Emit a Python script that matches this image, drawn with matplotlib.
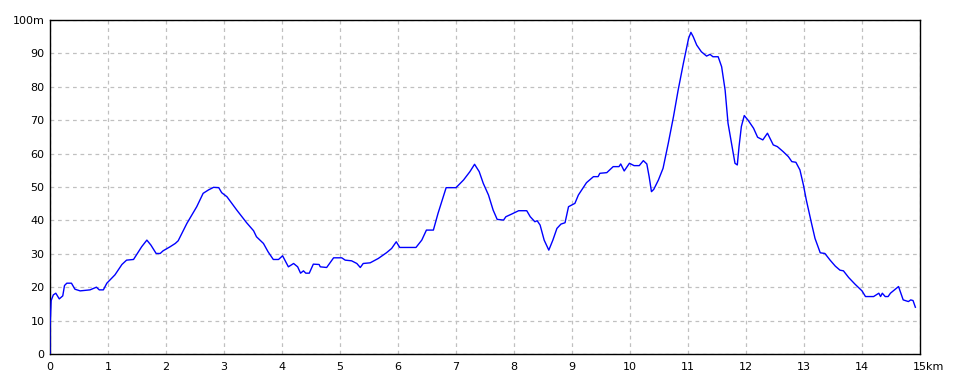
import matplotlib
matplotlib.use("Agg")
import matplotlib.pyplot as plt
from matplotlib.transforms import ScaledTranslation

# distance along route (km)
dist_km = [0.0, 0.0, 0.02, 0.057, 0.10, 0.16, 0.22, 0.25, 0.29, 0.37, 0.43, 0.52, 0.69, 0.80, 0.85, 0.92,
           0.98, 1.12, 1.24, 1.32, 1.44, 1.58, 1.67, 1.74, 1.83, 1.90, 1.95, 2.07, 2.16, 2.21, 2.36,
           2.53, 2.64, 2.73, 2.82, 2.91, 2.96, 3.05, 3.22, 3.39, 3.51, 3.56, 3.68, 3.76, 3.85, 3.94,
           4.01, 4.05, 4.11, 4.20, 4.27, 4.32, 4.37, 4.41, 4.47, 4.54, 4.64, 4.66, 4.77, 4.89, 5.03,
           5.09, 5.20, 5.29, 5.35, 5.40, 5.52, 5.66, 5.80, 5.89, 5.97, 6.03, 6.31, 6.41, 6.49, 6.61,
           6.69, 6.83, 7.00, 7.13, 7.24, 7.32, 7.40, 7.47, 7.56, 7.64, 7.71, 7.82, 7.86, 7.96, 8.08,
           8.22, 8.28, 8.36, 8.40, 8.45, 8.52, 8.60, 8.67, 8.74, 8.81, 8.88, 8.94, 9.05, 9.11, 9.25,
           9.37, 9.45, 9.48, 9.60, 9.71, 9.81, 9.84, 9.90, 9.99, 10.07, 10.16, 10.23, 10.29, 10.33,
           10.37, 10.41, 10.49, 10.57, 10.66, 10.75, 10.83, 10.92, 11.01, 11.05, 11.09, 11.15, 11.23,
           11.32, 11.38, 11.43, 11.52, 11.58, 11.64, 11.69, 11.75, 11.81, 11.85, 11.88, 11.92, 11.97,
           12.04, 12.13, 12.20, 12.29, 12.37, 12.47, 12.54, 12.64, 12.73, 12.79, 12.86, 12.93, 12.99,
           13.04, 13.13, 13.19, 13.28, 13.36, 13.45, 13.54, 13.62, 13.68, 13.77, 13.88, 14.00, 14.06,
           14.20, 14.29, 14.32, 14.35, 14.40, 14.45, 14.49, 14.63, 14.67, 14.71, 14.80, 14.84, 14.88,
           14.92]

# elevation (m)
elev_m = [0.0, 8.0, 16.0, 17.7, 18.2, 16.5, 17.4, 20.5, 21.2, 21.2, 19.4, 18.9, 19.2, 20.0, 19.2, 19.2,
          21.2, 23.7, 26.8, 28.1, 28.3, 32.1, 34.1, 32.6, 30.1, 30.1, 30.9, 32.1, 33.1, 33.9, 39.1,
          44.1, 48.1, 49.1, 49.9, 49.8, 48.3, 47.1, 43.1, 39.3, 36.9, 35.1, 33.1, 30.6, 28.3, 28.3,
          29.4, 28.1, 26.1, 27.1, 26.1, 24.2, 24.9, 24.2, 24.2, 26.9, 26.8, 26.1, 25.9, 28.8, 28.8,
          28.1, 27.9, 27.1, 25.9, 27.1, 27.3, 28.6, 30.3, 31.6, 33.6, 31.9, 31.9, 34.1, 37.1, 37.1,
          42.1, 49.8, 49.8, 52.1, 54.6, 56.8, 54.6, 51.1, 47.6, 43.1, 40.3, 40.1, 41.1, 41.9, 42.9,
          42.9, 41.1, 39.6, 39.9, 38.6, 34.1, 31.1, 34.1, 37.6, 38.9, 39.3, 44.1, 45.1, 47.6, 51.3,
          53.1, 53.1, 54.1, 54.3, 56.1, 56.1, 56.9, 54.8, 57.1, 56.4, 56.4, 57.9, 56.9, 53.1,
          48.6, 49.3, 52.1, 55.6, 63.1, 71.1, 79.0, 87.0, 94.5, 96.3, 95.0, 92.5, 90.5,
          89.2, 89.7, 89.0, 89.0, 86.0, 79.0, 69.1, 63.1, 57.1, 56.6, 62.1, 68.1, 71.4,
          69.9, 67.6, 64.9, 64.1, 66.1, 62.6, 62.1, 60.6, 59.1, 57.6, 57.4, 55.1, 50.6,
          46.1, 39.1, 34.6, 30.3, 30.1, 28.1, 26.3, 25.1, 24.9, 22.9, 20.9, 18.9, 17.2,
          17.2, 18.2, 17.2, 18.2, 17.2, 17.2, 18.2, 20.2, 18.2, 16.2, 15.7, 16.2, 16.0,
          14.0]

x_ticks = list(range(0, 16))
x_tick_labels = [str(v) for v in range(0, 15)] + ["15km"]
y_ticks = list(range(0, 101, 10))
y_tick_labels = [str(v) for v in range(0, 100, 10)] + ["100m"]

W, H, DPI = 960, 384, 100
fig = plt.figure(figsize=(W / DPI, H / DPI), dpi=DPI)
fig.patch.set_facecolor("white")
ax = fig.add_axes([50 / W, (H - 354) / H, 870 / W, 334 / H])

ax.plot(dist_km, elev_m, color="#0000ff", linewidth=1.0, zorder=3)

ax.set_xlim(0, 15)
ax.set_ylim(0, 100)
ax.set_xticks(x_ticks)
ax.set_xticklabels(x_tick_labels)
ax.set_yticks(y_ticks)
ax.set_yticklabels(y_tick_labels)

ax.tick_params(axis="both", length=0, labelsize=8, colors="#000000")
ax.tick_params(axis="x", pad=6)
ax.tick_params(axis="y", pad=4)

ax.grid(True, color="#c0c0c0", linestyle=(0, (3, 3)), linewidth=0.9, zorder=1)
ax.set_axisbelow(True)
for s in ax.spines.values():
    s.set_color("black")
    s.set_linewidth(1.0)

# make "15km" start so that "15" is centred on its tick
lbl = ax.get_xticklabels()[-1]
lbl.set_horizontalalignment("left")
lbl.set_transform(lbl.get_transform() + ScaledTranslation(-7 / DPI, 0, fig.dpi_scale_trans))

fig.savefig("out.png", dpi=DPI)
